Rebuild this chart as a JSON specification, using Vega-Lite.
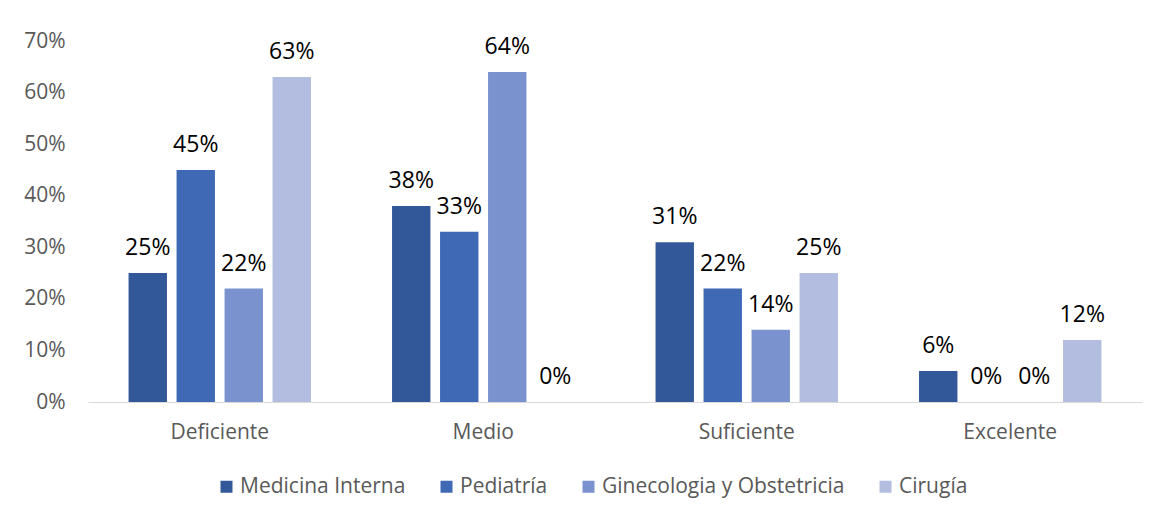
{
  "$schema": "https://vega.github.io/schema/vega-lite/v6.json",
  "autosize": "none",
  "width": 1054,
  "height": 361,
  "padding": {"left": 88, "top": 41, "right": 17, "bottom": 114},
  "background": "white",
  "config": {
    "view": {"stroke": null},
    "font": "Open Sans",
    "axis": {"labelFont": "Open Sans", "labelColor": "#595959", "labelFontSize": 21, "grid": false, "ticks": false, "title": null},
    "legend": {"labelFont": "Open Sans", "labelColor": "#595959", "labelFontSize": 21}
  },
  "data": {
    "values": [
      {"nivel": "Deficiente", "servicio": "Medicina Interna", "valor": 0.25},
      {"nivel": "Deficiente", "servicio": "Pediatría", "valor": 0.45},
      {"nivel": "Deficiente", "servicio": "Ginecologia y Obstetricia", "valor": 0.22},
      {"nivel": "Deficiente", "servicio": "Cirugía", "valor": 0.63},
      {"nivel": "Medio", "servicio": "Medicina Interna", "valor": 0.38},
      {"nivel": "Medio", "servicio": "Pediatría", "valor": 0.33},
      {"nivel": "Medio", "servicio": "Ginecologia y Obstetricia", "valor": 0.64},
      {"nivel": "Medio", "servicio": "Cirugía", "valor": 0.0},
      {"nivel": "Suficiente", "servicio": "Medicina Interna", "valor": 0.31},
      {"nivel": "Suficiente", "servicio": "Pediatría", "valor": 0.22},
      {"nivel": "Suficiente", "servicio": "Ginecologia y Obstetricia", "valor": 0.14},
      {"nivel": "Suficiente", "servicio": "Cirugía", "valor": 0.25},
      {"nivel": "Excelente", "servicio": "Medicina Interna", "valor": 0.06},
      {"nivel": "Excelente", "servicio": "Pediatría", "valor": 0.0},
      {"nivel": "Excelente", "servicio": "Ginecologia y Obstetricia", "valor": 0.0},
      {"nivel": "Excelente", "servicio": "Cirugía", "valor": 0.12}
    ]
  },
  "encoding": {
    "x": {
      "field": "nivel", "type": "nominal",
      "sort": ["Deficiente", "Medio", "Suficiente", "Excelente"],
      "scale": {"paddingInner": 0.2713, "paddingOuter": 0.1357},
      "axis": {"labelAngle": 0, "domain": true, "domainColor": "#d9d9d9", "domainWidth": 1, "labelPadding": 19}
    },
    "xOffset": {
      "field": "servicio", "type": "nominal",
      "sort": ["Medicina Interna", "Pediatría", "Ginecologia y Obstetricia", "Cirugía"],
      "scale": {"paddingInner": 0.2, "paddingOuter": 0.1}
    },
    "y": {
      "field": "valor", "type": "quantitative",
      "scale": {"domain": [0, 0.7], "nice": false},
      "axis": {"format": ".0%", "values": [0, 0.1, 0.2, 0.3, 0.4, 0.5, 0.6, 0.7], "domain": false, "labelPadding": 23}
    }
  },
  "layer": [
    {
      "mark": {"type": "bar"},
      "encoding": {
        "color": {
          "field": "servicio", "type": "nominal",
          "sort": ["Medicina Interna", "Pediatría", "Ginecologia y Obstetricia", "Cirugía"],
          "scale": {"domain": ["Medicina Interna", "Pediatría", "Ginecologia y Obstetricia", "Cirugía"], "range": ["#335899", "#3F69B5", "#7A93CF", "#B3BDDF"]},
          "legend": {
            "title": null, "orient": "none", "direction": "horizontal", "columns": 4,
            "legendX": 128, "legendY": 435, "padding": 0,
            "symbolType": "square", "symbolSize": 144, "symbolStrokeWidth": 0,
            "labelOffset": 3, "columnPadding": 30, "labelLimit": 400
          }
        }
      }
    },
    {
      "mark": {"type": "text", "baseline": "alphabetic", "dy": -18, "fontSize": 23, "color": "#000000", "font": "Open Sans"},
      "encoding": {
        "text": {"field": "valor", "type": "quantitative", "format": ".0%"}
      }
    }
  ]
}
